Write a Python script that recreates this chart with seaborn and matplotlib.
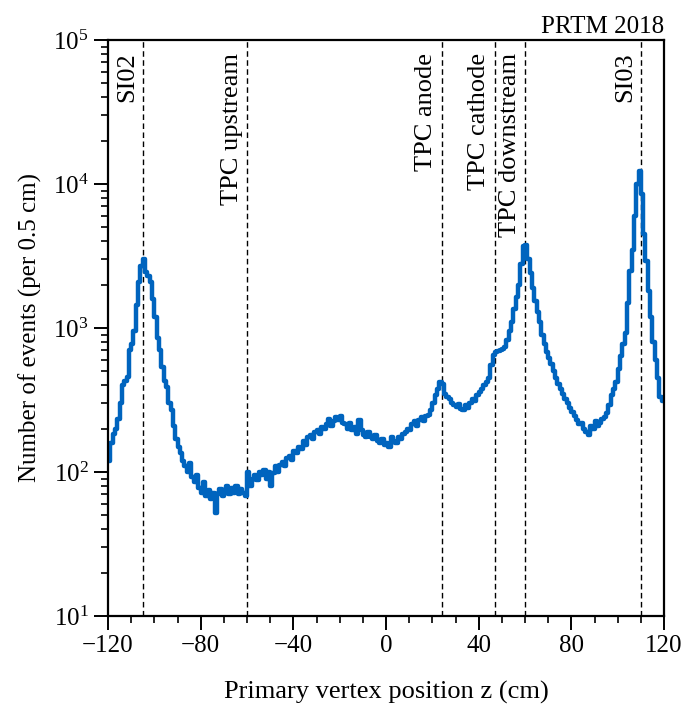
import numpy as np
import pandas as pd
import matplotlib
matplotlib.use("Agg")
import matplotlib.pyplot as plt
import matplotlib.ticker as mticker
import seaborn as sns

# ---- data (1 cm bins, left edges from -120 to 119) ----
bin_left = list(range(-120, 120))
counts = [
    # -120 .. -111
    120, 160, 185, 200, 235, 300, 400, 430, 460, 700,
    # -110 .. -101
    780, 950, 1450, 2100, 2700, 3000, 2450, 2300, 2100, 1600,
    # -100 .. -91
    1200, 850, 700, 540, 430, 390, 300, 270, 210, 170,
    # -90 .. -81
    150, 135, 120, 110, 100, 115, 92, 85, 95, 78,
    # -80 .. -71
    72, 85, 68, 75, 65, 72, 52, 70, 76, 68,
    # -70 .. -61
    74, 80, 70, 78, 72, 80, 70, 76, 72, 68,
    # -60 .. -51
    100, 80, 90, 95, 88, 100, 95, 104, 90, 100,
    # -50 .. -41
    80, 98, 110, 100, 112, 118, 110, 125, 130, 122,
    # -40 .. -31
    140, 135, 150, 145, 165, 155, 175, 180, 170, 190,
    # -30 .. -21
    195, 185, 205, 200, 215, 235, 210, 225, 240, 230,
    # -20 .. -11
    245, 220, 215, 200, 220, 195, 205, 185, 230, 195,
    # -10 .. -1
    180, 175, 190, 175, 170, 180, 165, 160, 170, 155,
    # 0 .. 9
    160, 150, 175, 165, 160, 175, 170, 185, 190, 200,
    # 10 .. 19
    195, 215, 225, 210, 230, 240, 225, 245, 250, 270,
    # 20 .. 29
    300, 340, 380, 420, 410, 350, 330, 320, 300, 290,
    # 30 .. 39
    285, 295, 275, 270, 290, 280, 300, 320, 310, 340,
    # 40 .. 49
    360, 380, 400, 420, 450, 550, 650, 680, 690, 700,
    # 50 .. 59
    710, 740, 820, 950, 1100, 1350, 1650, 2000, 2800, 3700,
    # 60 .. 69
    3800, 3000, 2400, 1900, 1550, 1300, 1100, 900, 780, 680,
    # 70 .. 79
    620, 560, 500, 450, 410, 380, 350, 320, 300, 280,
    # 80 .. 89
    260, 245, 230, 215, 220, 200, 190, 180, 210, 200,
    # 90 .. 99
    225, 210, 220, 235, 240, 255, 290, 340, 380, 420,
    # 100 .. 109
    520, 640, 770, 920, 1500, 2500, 3500, 6000, 10000, 12300,
    # 110 .. 119
    8500, 4500, 2900, 1800, 1200, 800, 600, 450, 330, 310,
]
detector_z = [-105, -60, 24, 47, 60, 110]
detector_names = ["SI02", "TPC upstream", "TPC anode", "TPC cathode",
                  "TPC downstream", "SI03"]
x_ticks = [-120, -80, -40, 0, 40, 80, 120]

df = pd.DataFrame({"z": np.array(bin_left, dtype=float) + 0.5,
                   "n": np.array(counts, dtype=float)})

sns.set_style("ticks")
plt.rcParams["font.family"] = ["Liberation Serif", "DejaVu Serif"]
plt.rcParams["mathtext.fontset"] = "stix"
plt.rcParams["font.size"] = 18
for key in ["text.color", "axes.labelcolor", "xtick.color", "ytick.color",
            "axes.edgecolor"]:
    plt.rcParams[key] = "black"

fig = plt.figure(figsize=(6.87, 7.12), dpi=100)
ax = fig.add_axes([108 / 687, 96 / 712, 556 / 687, 576 / 712])

sns.histplot(data=df, x="z", weights="n", binwidth=1, binrange=(-120, 120),
             element="step", fill=False, color="#0064be", linewidth=3.2, ax=ax)
ax.set_yscale("log")
ax.set_xlim(-120, 120)
ax.set_ylim(10, 1e5)

trans = ax.get_xaxis_transform()
for zc, name in zip(detector_z, detector_names):
    ax.axvline(zc, color="black", lw=1.0, ls=(0, (4, 2.5)), zorder=1)
    ax.text(zc - 1.9, 0.978, name, rotation=90, ha="right", va="top",
            transform=trans, fontsize=19, color="black")

ax.set_xticks(x_ticks)
ax.xaxis.set_minor_locator(mticker.MultipleLocator(10))
ax.yaxis.set_major_locator(mticker.LogLocator(base=10, numticks=10))
ax.yaxis.set_minor_locator(mticker.LogLocator(base=10, subs=np.arange(2, 10), numticks=20))
ax.yaxis.set_minor_formatter(mticker.NullFormatter())

ax.tick_params(which="major", direction="out", length=10, width=1.4,
               labelsize=18, pad=4, color="black", labelcolor="black")
ax.tick_params(which="minor", direction="out", length=5, width=1.2, color="black")
for s in ax.spines.values():
    s.set_linewidth(1.6)
    s.set_color("black")
    s.set_visible(True)

ax.set_xlabel("Primary vertex position z (cm)", fontsize=19, labelpad=17, color="black")
ax.set_ylabel("Number of events (per 0.5 cm)", fontsize=18, labelpad=8, color="black")
ax.set_title("PRTM 2018", loc="right", fontsize=18, pad=5, color="black")

fig.savefig("out.png", dpi=100)
